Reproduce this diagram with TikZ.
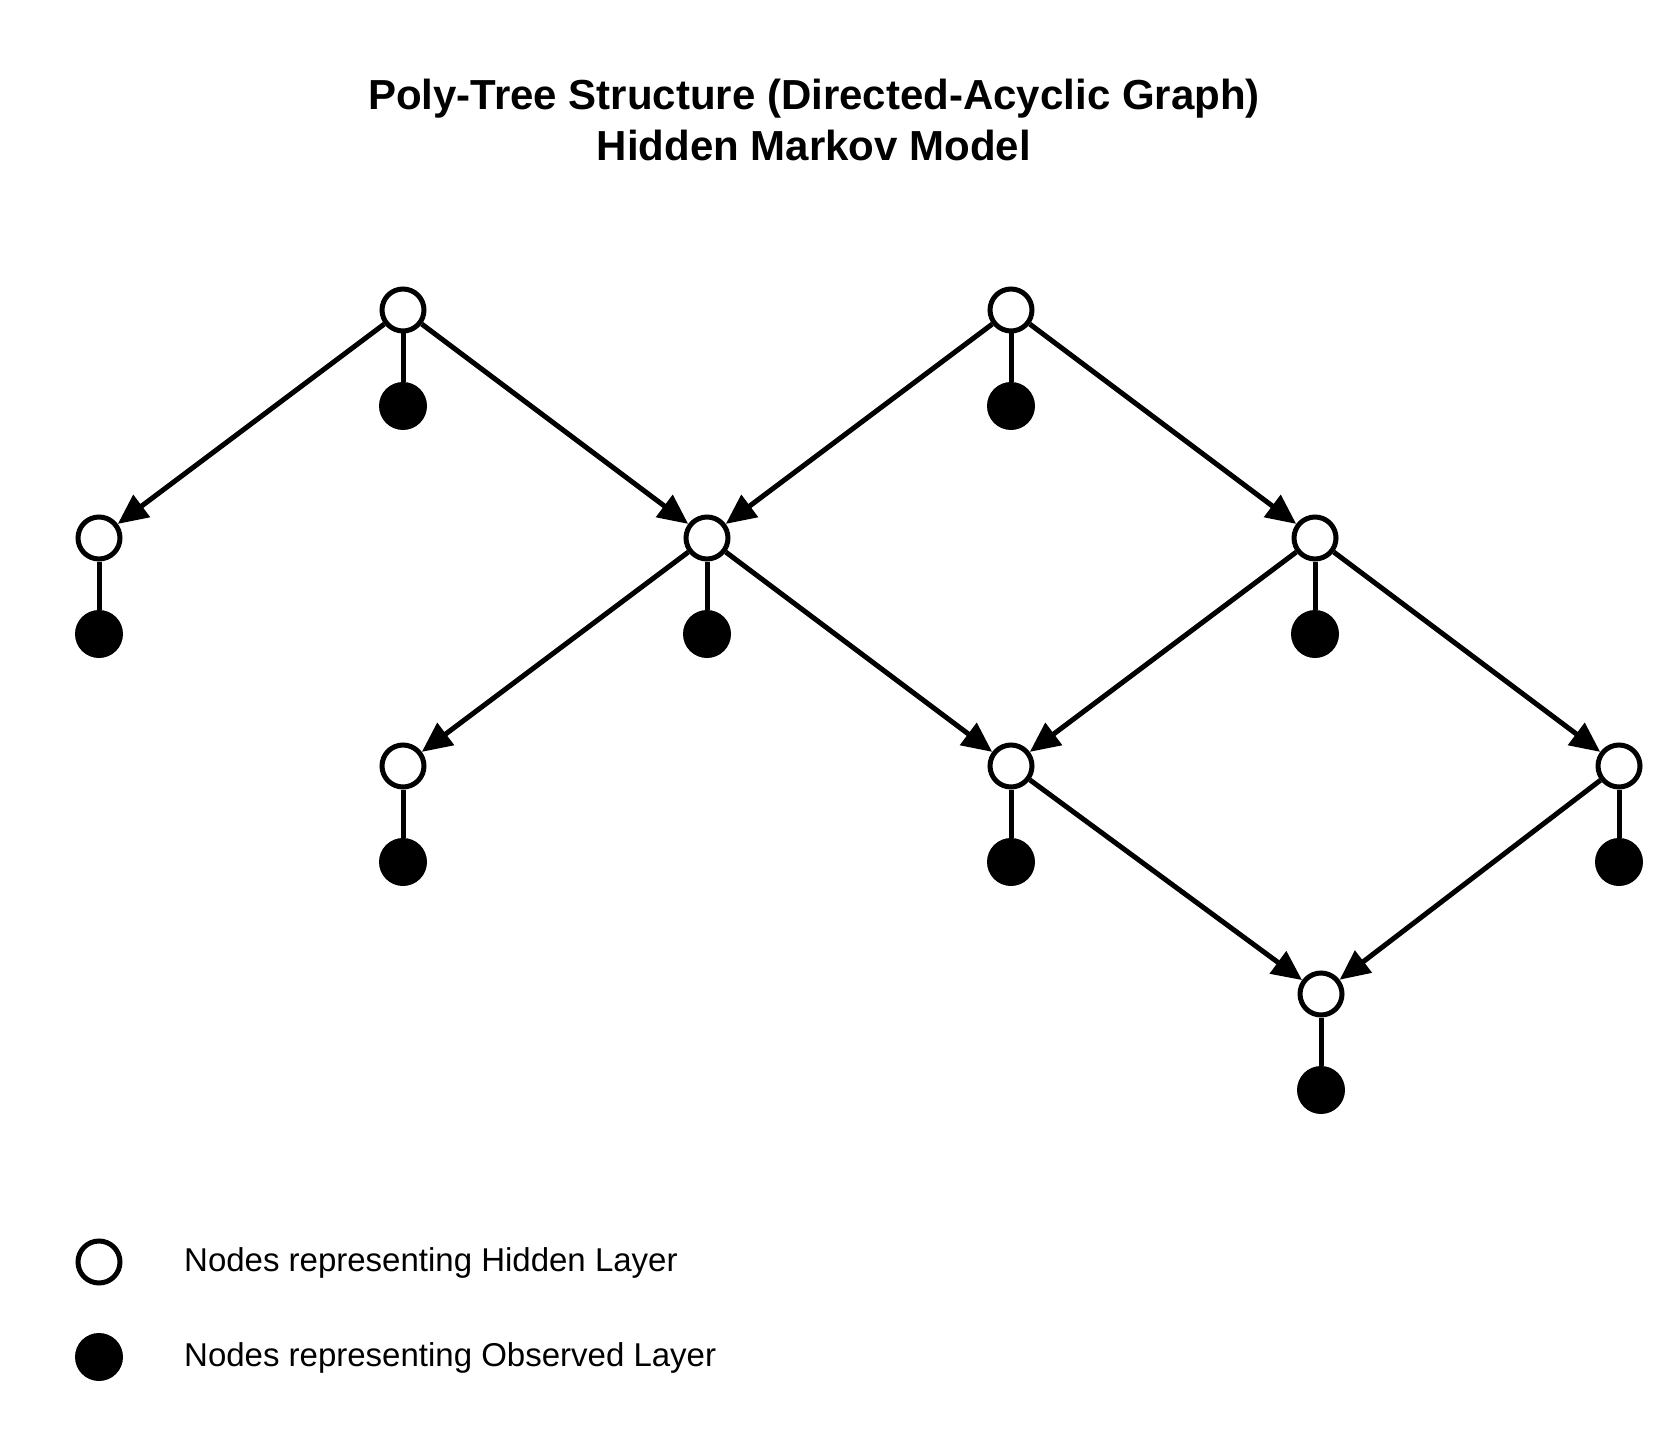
\documentclass[tikz,border=0pt]{standalone}
\usepackage{fontspec}
\setmainfont{Liberation Sans}
\usetikzlibrary{arrows.meta}
\begin{document}
\begin{tikzpicture}[x=1pt,y=-1pt,
  hid/.style={circle,draw=black,fill=white,line width=5pt,minimum size=42pt,inner sep=0pt},
  obs/.style={circle,fill=black,minimum size=48pt,inner sep=0pt,outer sep=0pt},
  edge/.style={line width=5pt,-{Triangle[length=30pt,width=27pt]}},
  stem/.style={line width=5pt},
  legtext/.style={anchor=base west,font=\fontsize{33}{40}\selectfont,inner sep=0pt}]
\useasboundingbox (0,0) rectangle (1660,1455);
% title
\node[font=\bfseries\fontsize{42}{51}\selectfont,align=center,anchor=base,inner sep=0pt] (title) at (814,161)
  {Poly-Tree Structure (Directed-Acyclic Graph)\\Hidden Markov Model};
% hidden nodes
\node[hid] (A) at (403,310) {};
\node[hid] (B) at (1011,310) {};
\node[hid] (C) at (99,538) {};
\node[hid] (D) at (707,538) {};
\node[hid] (E) at (1315,538) {};
\node[hid] (F) at (403,766) {};
\node[hid] (G) at (1011,766) {};
\node[hid] (H) at (1619,766) {};
\node[hid] (I) at (1321,994) {};
% observed nodes
\foreach \n in {A,B,C,D,E,F,G,H,I}{
  \node[obs] (o\n) at ([yshift=-96pt]\n.center) {};
  \draw[stem] (\n) -- (o\n);
}
% edges
\draw[edge] (A) -- (C);
\draw[edge] (A) -- (D);
\draw[edge] (B) -- (D);
\draw[edge] (B) -- (E);
\draw[edge] (D) -- (F);
\draw[edge] (D) -- (G);
\draw[edge] (E) -- (G);
\draw[edge] (E) -- (H);
\draw[edge] (G) -- (I);
\draw[edge] (H) -- (I);
% legend
\node[hid] (lh) at (99,1262) {};
\node[obs] (lo) at (99,1357) {};
\node[legtext] (lht) at (184,1271) {Nodes representing Hidden Layer};
\node[legtext] (lot) at (184,1366) {Nodes representing Observed Layer};
\end{tikzpicture}
\end{document}
